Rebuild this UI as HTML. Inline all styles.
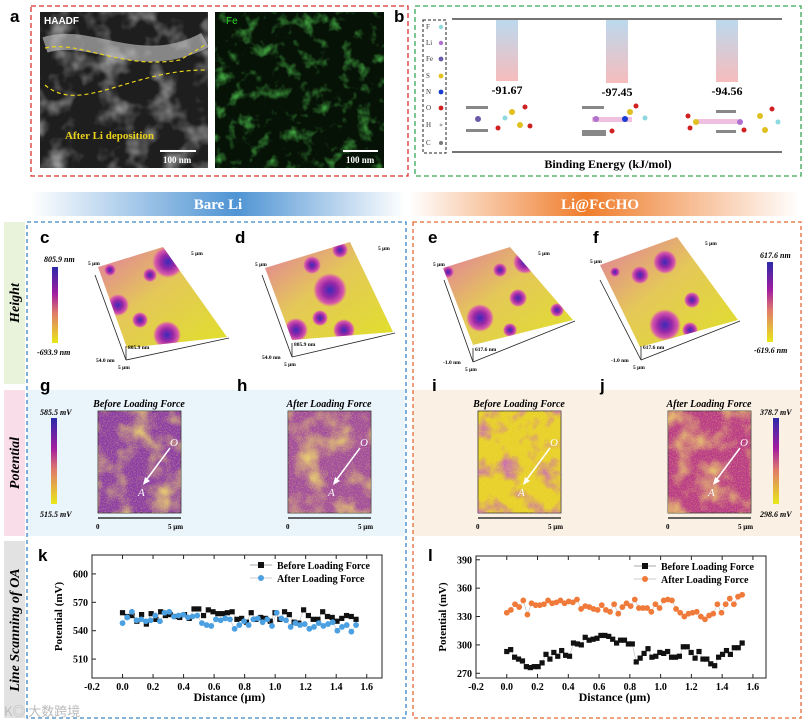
<!DOCTYPE html>
<html><head><meta charset="utf-8">
<style>
html,body{margin:0;padding:0;background:#fff;}
svg{display:block;font-family:"Liberation Serif",serif;}
</style></head>
<body>
<svg id="fig" width="808" height="723" viewBox="0 0 808 723">
<defs>
  <linearGradient id="barL" x1="0" x2="1"><stop offset="0" stop-color="#fff"/><stop offset="0.55" stop-color="#4f94d4"/><stop offset="1" stop-color="#fff"/></linearGradient>
  <linearGradient id="barR" x1="0" x2="1"><stop offset="0" stop-color="#fff"/><stop offset="0.45" stop-color="#ef7d2c"/><stop offset="1" stop-color="#fff"/></linearGradient>
  <linearGradient id="bebar" x1="0" y1="0" x2="0" y2="1"><stop offset="0" stop-color="#bcd9ee"/><stop offset="1" stop-color="#f6bcbc"/></linearGradient>
  <linearGradient id="cbar" x1="0" y1="0" x2="0" y2="1"><stop offset="0" stop-color="#2a2aa8"/><stop offset="0.35" stop-color="#a21ca0"/><stop offset="0.6" stop-color="#e07a6a"/><stop offset="1" stop-color="#e8e818"/></linearGradient>
  <linearGradient id="surf" x1="0" y1="0" x2="1" y2="1"><stop offset="0" stop-color="#e27aa0"/><stop offset="0.45" stop-color="#e4c858"/><stop offset="1" stop-color="#e0e02a"/></linearGradient>
  <radialGradient id="blob"><stop offset="0" stop-color="#3a2ab8"/><stop offset="0.45" stop-color="#9a28a8"/><stop offset="0.8" stop-color="#d85aa8"/><stop offset="1" stop-color="#e070a0" stop-opacity="0"/></radialGradient>
  <filter id="noiseY" x="0" y="0" width="1" height="1">
    <feTurbulence type="fractalNoise" baseFrequency="0.8" numOctaves="2" seed="3"/>
    <feColorMatrix type="matrix" values="0 0 0 0 0.92  0 0 0 0 0.8  0 0 0 0 0.1  0 0 0 1.8 -0.75"/>
    <feComposite in2="SourceGraphic" operator="in"/>
  </filter>
  <filter id="patchY" x="0" y="0" width="1" height="1">
    <feTurbulence type="fractalNoise" baseFrequency="0.04" numOctaves="3" seed="9"/>
    <feColorMatrix type="matrix" values="0 0 0 0 0.9  0 0 0 0 0.75  0 0 0 0 0.15  0 0 0 2.4 -1.0"/>
    <feComposite in2="SourceGraphic" operator="in"/>
  </filter>
  <filter id="patchP" x="0" y="0" width="1" height="1">
    <feTurbulence type="fractalNoise" baseFrequency="0.05" numOctaves="3" seed="7"/>
    <feColorMatrix type="matrix" values="0 0 0 0 0.55  0 0 0 0 0.1  0 0 0 0 0.6  0 0 0 2.6 -1.25"/>
    <feComposite in2="SourceGraphic" operator="in"/>
  </filter>
  <filter id="grey" x="0" y="0" width="1" height="1">
    <feTurbulence type="fractalNoise" baseFrequency="0.04" numOctaves="3" seed="2"/>
    <feColorMatrix type="matrix" values="0 0 0 0 0.7  0 0 0 0 0.7  0 0 0 0 0.7  0 0 0 1.6 -0.75"/>
  </filter>
  <filter id="green" x="0" y="0" width="1" height="1">
    <feTurbulence type="fractalNoise" baseFrequency="0.07" numOctaves="3" seed="5"/>
    <feColorMatrix type="matrix" values="0 0 0 0 0.1  0 0 0 0 0.75  0 0 0 0 0.1  0 0 0 2.0 -1.05"/>
  </filter>
</defs>

<!-- panel a -->
<g>
  <rect x="31" y="6" width="377" height="170" fill="none" stroke="#d9322f" stroke-width="1.3" stroke-dasharray="5,3"/>
  <text x="10" y="22" font-size="17" font-weight="bold" font-family="Liberation Sans,sans-serif">a</text>
  <rect x="40" y="12" width="168" height="156" fill="#1e1e1e"/>
  <rect x="40" y="12" width="168" height="156" filter="url(#grey)"/>
  <path d="M45,45 C90,30 140,75 205,40" stroke="#ccc" stroke-width="16" fill="none" opacity="0.6"/>
  <path d="M45,48 C80,40 120,70 180,60 L205,45" fill="none" stroke="#e8d21c" stroke-width="1.2" stroke-dasharray="4,3"/>
  <path d="M45,85 C80,115 130,70 205,70" fill="none" stroke="#e8d21c" stroke-width="1.2" stroke-dasharray="4,3"/>
  <text x="44" y="24" font-size="10" fill="#fff" font-weight="bold" font-family="Liberation Sans,sans-serif">HAADF</text>
  <text x="65" y="139" font-size="11" fill="#e8d21c" font-weight="bold">After Li deposition</text>
  <line x1="160" y1="151" x2="196" y2="151" stroke="#fff" stroke-width="2"/>
  <text x="163" y="163" font-size="9" fill="#fff" font-weight="bold">100 nm</text>
  <rect x="215" y="12" width="169" height="156" fill="#061206"/>
  <rect x="215" y="12" width="169" height="156" filter="url(#green)"/>
  <text x="226" y="24" font-size="10" fill="#2cd62c" font-family="Liberation Sans,sans-serif">Fe</text>
  <line x1="343" y1="151" x2="378" y2="151" stroke="#fff" stroke-width="2"/>
  <text x="346" y="163" font-size="9" fill="#fff" font-weight="bold">100 nm</text>
</g>

<!-- panel b -->
<g>
  <rect x="415" y="6" width="386" height="170" fill="none" stroke="#3aa655" stroke-width="1.3" stroke-dasharray="5,3"/>
  <text x="394" y="22" font-size="17" font-weight="bold" font-family="Liberation Sans,sans-serif">b</text>
  <rect x="423" y="20" width="23" height="133" fill="none" stroke="#222" stroke-dasharray="3,2"/>
  <g font-size="7" fill="#333">
    <text x="426" y="29">F</text><circle cx="441" cy="27" r="2.2" fill="#8ed8e0"/>
    <text x="426" y="45">Li</text><circle cx="441" cy="43" r="2.2" fill="#b070d0"/>
    <text x="426" y="61">Fe</text><circle cx="441" cy="59" r="2.4" fill="#6a5aa8"/>
    <text x="426" y="78">S</text><circle cx="441" cy="76" r="2.4" fill="#e0c020"/>
    <text x="426" y="94">N</text><circle cx="441" cy="92" r="2.4" fill="#1a3ad0"/>
    <text x="426" y="110">O</text><circle cx="441" cy="108" r="2.4" fill="#d02020"/>
    <text x="426" y="127">H</text><circle cx="441" cy="125" r="1.4" fill="#aaa"/>
    <text x="426" y="145">C</text><circle cx="441" cy="143" r="2" fill="#777"/>
  </g>
  <line x1="452" y1="19" x2="782" y2="19" stroke="#222" stroke-width="1.3"/>
  <line x1="452" y1="152" x2="782" y2="152" stroke="#222" stroke-width="1.3"/>
  <rect x="496" y="20" width="22" height="61" fill="url(#bebar)"/>
  <rect x="606" y="20" width="22" height="63" fill="url(#bebar)"/>
  <rect x="716" y="20" width="22" height="62" fill="url(#bebar)"/>
  <g font-size="12" font-weight="bold" text-anchor="middle">
    <text x="507" y="94">-91.67</text><text x="617" y="96">-97.45</text><text x="727" y="95">-94.56</text>
  </g>
  <g>
    <rect x="466" y="106" width="22" height="3" fill="#888"/><rect x="466" y="129" width="22" height="3" fill="#888"/>
    <circle cx="478" cy="119" r="3" fill="#6a5aa8"/><circle cx="512" cy="112" r="3" fill="#e0c020"/><circle cx="525" cy="107" r="2.5" fill="#d02020"/><circle cx="520" cy="125" r="3" fill="#e0c020"/><circle cx="530" cy="126" r="2.5" fill="#d02020"/><circle cx="498" cy="128" r="2.5" fill="#d02020"/><circle cx="505" cy="118" r="2.5" fill="#8ed8e0"/>
    <rect x="582" y="106" width="22" height="3" fill="#888"/><rect x="582" y="130" width="24" height="6" fill="#888"/>
    <rect x="592" y="117" width="40" height="5" fill="#f0c0e0"/><circle cx="596" cy="119" r="3" fill="#b070d0"/><circle cx="625" cy="119" r="3" fill="#1a3ad0"/><circle cx="630" cy="112" r="3" fill="#e0c020"/><circle cx="636" cy="106" r="2.5" fill="#d02020"/><circle cx="645" cy="118" r="2.5" fill="#8ed8e0"/><circle cx="612" cy="131" r="2.5" fill="#d02020"/>
    <rect x="716" y="110" width="20" height="3" fill="#888"/><rect x="716" y="130" width="20" height="3" fill="#888"/>
    <rect x="698" y="119" width="40" height="5" fill="#f0c0e0"/><circle cx="696" cy="122" r="3" fill="#e0c020"/><circle cx="688" cy="116" r="2.5" fill="#d02020"/><circle cx="690" cy="128" r="2.5" fill="#d02020"/><circle cx="740" cy="122" r="3" fill="#b070d0"/><circle cx="760" cy="116" r="3" fill="#e0c020"/><circle cx="765" cy="130" r="3" fill="#e0c020"/><circle cx="772" cy="109" r="2.5" fill="#d02020"/><circle cx="778" cy="122" r="2.5" fill="#8ed8e0"/><circle cx="744" cy="130" r="2.5" fill="#d02020"/>
  </g>
  <text x="608" y="168" font-size="12" font-weight="bold" text-anchor="middle">Binding Energy (kJ/mol)</text>
</g>

<!-- header bar -->
<g>
  <rect x="30" y="192" width="375" height="24" fill="url(#barL)"/>
  <rect x="410" y="192" width="390" height="24" fill="url(#barR)"/>
  <text x="218" y="209" font-size="15" font-weight="bold" fill="#fff" text-anchor="middle">Bare Li</text>
  <text x="600" y="209" font-size="15" font-weight="bold" fill="#fff" text-anchor="middle">Li@FcCHO</text>
</g>

<!-- side labels -->
<g>
  <rect x="4" y="222" width="21" height="162" fill="#e9f3dc"/>
  <rect x="4" y="390" width="21" height="146" fill="#f9dde8"/>
  <rect x="4" y="541" width="21" height="177" fill="#e2e2e2"/>
  <text transform="translate(19,303) rotate(-90)" font-size="14" font-style="italic" font-weight="bold" text-anchor="middle">Height</text>
  <text transform="translate(19,463) rotate(-90)" font-size="14" font-style="italic" font-weight="bold" text-anchor="middle">Potential</text>
  <text transform="translate(19,630) rotate(-90)" font-size="14" font-style="italic" font-weight="bold" text-anchor="middle">Line Scanning of OA</text>
</g>

<!-- potential backgrounds -->
<rect x="27" y="390" width="378" height="146" fill="#eaf4fb"/>
<rect x="413" y="390" width="387" height="146" fill="#fbf0e4"/>
<rect x="27" y="222" width="379" height="496" fill="none" stroke="#3a86c8" stroke-width="1.3" stroke-dasharray="4,3"/>
<rect x="413" y="222" width="388" height="496" fill="none" stroke="#e46a35" stroke-width="1.3" stroke-dasharray="4,3"/>

<g id="surfaces"></g>
<g id="heatmaps"></g>

<g font-size="8" font-style="italic" font-weight="bold">
  <rect x="52" y="267" width="6" height="76" fill="url(#cbar)"/>
  <text x="44" y="262">805.9 nm</text><text x="37" y="355">-693.9 nm</text>
  <rect x="767" y="262" width="6" height="80" fill="url(#cbar)"/>
  <text x="760" y="258">617.6 nm</text><text x="754" y="353">-619.6 nm</text>
  <rect x="51" y="418" width="6" height="86" fill="url(#cbar)"/>
  <text x="40" y="415">585.5 mV</text><text x="40" y="517">515.5 mV</text>
  <rect x="773" y="418" width="6" height="86" fill="url(#cbar)"/>
  <text x="760" y="415">378.7 mV</text><text x="760" y="517">298.6 mV</text>
</g>

<g font-size="17" font-weight="bold" font-family="Liberation Sans,sans-serif">
  <text x="40" y="243">c</text><text x="235" y="243">d</text><text x="428" y="243">e</text><text x="593" y="243">f</text>
  <text x="40" y="391">g</text><text x="237" y="391">h</text><text x="432" y="391">i</text><text x="600" y="391">j</text>
  <text x="38" y="561">k</text><text x="428" y="561">l</text>
</g>

<g id="chartK"></g>
<g id="chartL"></g>
<text x="4" y="716" font-size="13" fill="#bbb" font-family="Noto Sans CJK SC,sans-serif">K◎ 大数跨境</text>
</svg>

<script>
const NS="http://www.w3.org/2000/svg";
function mk(parent,tag,attrs){const e=document.createElementNS(NS,tag);for(const k in attrs)e.setAttribute(k,attrs[k]);parent.appendChild(e);return e;}

// ---- chart data ----
const kBefore=[559,555,556,550,557,547,558,552,560,556,557,555,554,557,553,563,563,556,562,560,558,558,559,560,552,553,549,559,552,554,553,550,559,552,560,557,549,548,562,556,552,552,560,555,554,550,553,556,555,552];
const kAfter=[548,554,560,551,552,550,551,556,550,559,560,555,556,557,554,555,556,548,546,545,552,551,553,552,542,546,550,546,552,553,549,552,545,559,553,551,544,548,546,547,542,544,548,545,547,549,540,544,546,539,546];
const lBefore=[293,295,287,285,283,277,276,277,277,281,290,285,292,288,294,289,288,302,301,300,308,305,306,307,310,310,309,306,302,305,305,301,301,282,286,291,296,287,288,292,291,293,287,287,288,298,298,292,286,293,285,285,280,278,287,290,294,290,297,297,302];
const lAfter=[334,337,343,340,347,332,344,342,342,343,347,344,345,347,344,346,345,348,338,341,340,338,337,342,337,335,343,333,340,344,341,348,339,339,339,335,343,339,347,348,347,338,334,330,333,334,335,330,327,331,333,343,334,343,349,343,351,353];
const xTicks=[-0.2,0.0,0.2,0.4,0.6,0.8,1.0,1.2,1.4,1.6];
const kYTicks=[510,540,570,600];
const lYTicks=[270,300,330,360,390];
const seriesNames=["Before Loading Force","After Loading Force"];
const maxDist=1.53;

function chart(g,box,xr,yr,yt,s1,s2,c2,legX){
  const X=v=>box.x+(v-xr[0])/(xr[1]-xr[0])*box.w;
  const Y=v=>box.y+box.h-(v-yr[0])/(yr[1]-yr[0])*box.h;
  const fr=mk(g,'rect',{x:box.x,y:box.y,width:box.w,height:box.h,fill:'#fff',stroke:'#222','stroke-width':1});
  
  
  xTicks.forEach(t=>{
    mk(g,'line',{x1:X(t),x2:X(t),y1:box.y+box.h,y2:box.y+box.h-4,stroke:'#222'});
    mk(g,'line',{x1:X(t),x2:X(t),y1:box.y,y2:box.y+4,stroke:'#222'});
    const tx=mk(g,'text',{x:X(t),y:box.y+box.h+12,'font-size':10,'font-weight':'bold','text-anchor':'middle'});
    tx.textContent=t.toFixed(1);
    
    
  });
  yt.forEach(t=>{
    mk(g,'line',{x1:box.x,x2:box.x+4,y1:Y(t),y2:Y(t),stroke:'#222'});
    const tx=mk(g,'text',{x:box.x-4,y:Y(t)+3.5,'font-size':10,'font-weight':'bold','text-anchor':'end'});
    tx.textContent=t;
    
    
  });
  const xl=mk(g,'text',{x:X(0.7),y:box.y+box.h+23,'font-size':12,'font-weight':'bold','text-anchor':'middle'});
  xl.textContent='Distance (μm)';
  
  
  const yl=mk(g,'text',{transform:`translate(${box.x-30},${box.y+box.h/2}) rotate(-90)`,'font-size':11,'font-weight':'bold','text-anchor':'middle'});
  yl.textContent='Potential (mV)';
  
  
  [[s1,'#111','sq'],[s2,c2,'ci']].forEach(([s,c,m],si)=>{
    const xs=s.map((v,i)=>i*maxDist/(s.length-1));
    const ln=mk(g,'polyline',{points:s.map((v,i)=>X(xs[i])+','+Y(v)).join(' '),fill:'none',stroke:'#aaa','stroke-width':0.5});
    
    
    s.forEach((v,i)=>{
      let p;
      if(m==='sq') p=mk(g,'rect',{x:X(xs[i])-2.6,y:Y(v)-2.6,width:5.2,height:5.2,fill:c});
      else p=mk(g,'circle',{cx:X(xs[i]),cy:Y(v),r:2.9,fill:c});
      
      
    });
  });
  const ly=box.y+10;
  mk(g,'line',{x1:legX,x2:legX+22,y1:ly,y2:ly,stroke:'#aaa'});
  mk(g,'rect',{x:legX+8,y:ly-3,width:6,height:6,fill:'#111'});
  mk(g,'line',{x1:legX,x2:legX+22,y1:ly+13,y2:ly+13,stroke:'#ccc'});
  mk(g,'circle',{cx:legX+11,cy:ly+13,r:3,fill:c2});
  seriesNames.forEach((n,i)=>{
    const t=mk(g,'text',{x:legX+27,y:ly+4+i*13,'font-size':10,'font-weight':'bold'});
    t.textContent=n;
    
    
  });
}
chart(document.getElementById('chartK'),{x:92,y:555,w:290,h:123},[-0.2,1.7],[490,620],kYTicks,kBefore,kAfter,'#4aa0e0',250);
chart(document.getElementById('chartL'),{x:476,y:556,w:290,h:122},[-0.2,1.685],[265,394],lYTicks,lBefore,lAfter,'#f07a3a',634);

// ---- surfaces (decorative) ----
const sg=document.getElementById('surfaces');
const surfs=[
 {p:[[98,267],[163,247],[227,337],[127,348]],c:[126,360],t:[95,275],b:[[168,262,16],[118,305,11],[167,335,14],[140,320,8],[110,270,6],[150,275,7]],lab:['805.9 nm','54.0 nm']},
 {p:[[265,268],[350,242],[393,332],[292,340]],c:[292,357],t:[262,275],b:[[330,290,17],[296,330,12],[344,330,11],[312,265,9],[340,250,8],[320,318,8]],lab:['805.9 nm','54.0 nm']},
 {p:[[443,268],[510,247],[573,320],[473,345]],c:[473,362],t:[444,280],b:[[480,318,14],[525,262,12],[518,298,9],[500,270,7],[557,310,7],[448,272,6],[510,330,7]],lab:['617.6 nm','-1.0 nm']},
 {p:[[600,265],[677,237],[738,320],[640,347]],c:[641,360],t:[600,280],b:[[665,325,16],[665,262,12],[640,275,9],[692,300,8],[690,330,8],[615,272,5]],lab:['617.6 nm','-1.0 nm']}
];
surfs.forEach((s,i)=>{
  const id='clip'+i;
  const cp=mk(sg,'clipPath',{id:id});
  mk(cp,'polygon',{points:s.p.map(q=>q.join(',')).join(' ')});
  const poly=mk(sg,'polygon',{points:s.p.map(q=>q.join(',')).join(' '),fill:'url(#surf)'});
  
  
  const bg=mk(sg,'g',{'clip-path':`url(#${id})`});
  s.b.forEach(b=>mk(bg,'circle',{cx:b[0],cy:b[1],r:b[2],fill:'url(#blob)'}));
  const c=s.c,r=s.p[2];
  mk(sg,'line',{x1:c[0],y1:c[1],x2:s.t[0],y2:s.t[1],stroke:'#222','stroke-width':0.8});
  mk(sg,'line',{x1:c[0],y1:c[1],x2:r[0]+2,y2:r[1]+1,stroke:'#222','stroke-width':0.8});
  mk(sg,'line',{x1:c[0],y1:c[1],x2:c[0],y2:c[1]-14,stroke:'#222','stroke-width':0.8});
  const t=mk(sg,'text',{x:c[0]-8,y:c[1]+9,'font-size':5.5,'font-weight':'bold'});t.textContent='5 μm';
  const t2=mk(sg,'text',{x:c[0]-30,y:c[1]+2,'font-size':5.5,'font-weight':'bold'});t2.textContent=s.lab[1];
  const t3=mk(sg,'text',{x:c[0]+2,y:c[1]-11,'font-size':5.5,'font-weight':'bold'});t3.textContent=s.lab[0];
  const t4=mk(sg,'text',{x:s.p[0][0]-10,y:s.p[0][1]-2,'font-size':5.5,'font-weight':'bold'});t4.textContent='5 μm';
  const t5=mk(sg,'text',{x:s.p[1][0]+28,y:s.p[1][1]+8,'font-size':5.5,'font-weight':'bold'});t5.textContent='5 μm';
});

// ---- potential maps (decorative) ----
const hg=document.getElementById('heatmaps');
const maps=[{x:98,t:'Before Loading Force',base:'#8a3aa8',f:'patchY'},{x:288,t:'After Loading Force',base:'#a04aa0',f:'patchY'},{x:478,t:'Before Loading Force',base:'#e8d02a',f:'patchP'},{x:668,t:'After Loading Force',base:'#b8388a',f:'patchY'}];
maps.forEach((m,i)=>{
  const r=mk(hg,'rect',{x:m.x,y:411,width:83,height:102,fill:m.base,stroke:'#333','stroke-width':0.8});
  
  
  mk(hg,'rect',{x:m.x,y:411,width:83,height:102,fill:'#000',filter:`url(#${m.f})`,opacity:0.85});
  mk(hg,'rect',{x:m.x,y:411,width:83,height:102,fill:'#000',filter:'url(#noiseY)',opacity:0.5});
  const tt=mk(hg,'text',{x:m.x+41,y:407,'font-size':10,'font-style':'italic','font-weight':'bold','text-anchor':'middle'});tt.textContent=m.t;
  mk(hg,'line',{x1:m.x+72,y1:448,x2:m.x+46,y2:483,stroke:'#fff','stroke-width':1.5});
  mk(hg,'polygon',{points:`${m.x+45},485 ${m.x+47},477 ${m.x+52},481`,fill:'#fff'});
  const o=mk(hg,'text',{x:m.x+72,y:446,'font-size':11,'font-style':'italic',fill:'#fff'});o.textContent='O';
  const a=mk(hg,'text',{x:m.x+40,y:496,'font-size':11,'font-style':'italic',fill:'#fff'});a.textContent='A';
  mk(hg,'line',{x1:m.x,y1:518,x2:m.x+83,y2:518,stroke:'#333','stroke-width':1.5});
  const z=mk(hg,'text',{x:m.x-2,y:529,'font-size':7,'font-weight':'bold'});z.textContent='0';
  const f=mk(hg,'text',{x:m.x+70,y:529,'font-size':7,'font-weight':'bold'});f.textContent='5 μm';
});
</script>
</body></html>
